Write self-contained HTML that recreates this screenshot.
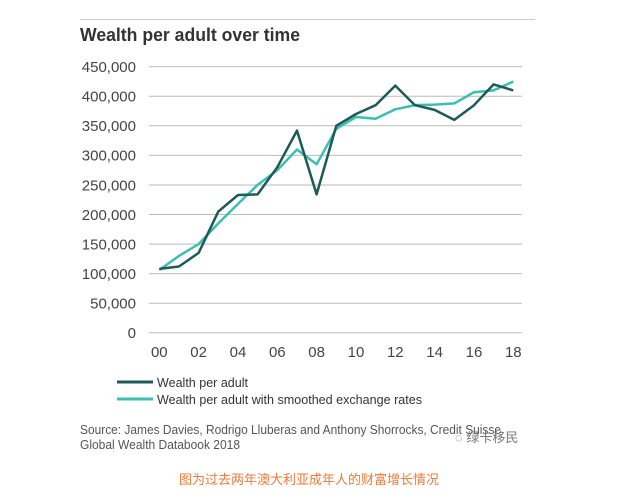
<!DOCTYPE html><html><head><style>body{margin:0;background:#fff}svg text{font-family:"Liberation Sans",sans-serif}</style></head><body>
<svg width="618" height="498" xmlns="http://www.w3.org/2000/svg">
<line x1="80" y1="19.5" x2="535" y2="19.5" stroke="#ccc"/>
<text x="80" y="41" font-size="18.5" font-weight="bold" fill="#333" textLength="220" lengthAdjust="spacingAndGlyphs">Wealth per adult over time</text>
<g stroke="#bbb" stroke-width="1">
<line x1="149" y1="66.7" x2="522" y2="66.7"/><line x1="149" y1="96.3" x2="522" y2="96.3"/><line x1="149" y1="125.8" x2="522" y2="125.8"/><line x1="149" y1="155.4" x2="522" y2="155.4"/><line x1="149" y1="185" x2="522" y2="185"/><line x1="149" y1="214.5" x2="522" y2="214.5"/><line x1="149" y1="244.1" x2="522" y2="244.1"/><line x1="149" y1="273.6" x2="522" y2="273.6"/><line x1="149" y1="303.2" x2="522" y2="303.2"/><line x1="149" y1="332.7" x2="522" y2="332.7"/>
</g>
<g font-size="15" fill="#444" text-anchor="end">
<text x="136" y="72">450,000</text><text x="136" y="101.6">400,000</text><text x="136" y="131.1">350,000</text><text x="136" y="160.7">300,000</text><text x="136" y="190.3">250,000</text><text x="136" y="219.8">200,000</text><text x="136" y="249.4">150,000</text><text x="136" y="278.9">100,000</text><text x="136" y="308.5">50,000</text><text x="136" y="338">0</text>
</g>
<g font-size="15" fill="#444" text-anchor="middle">
<text x="159.3" y="357">00</text><text x="198.6" y="357">02</text><text x="238" y="357">04</text><text x="277.3" y="357">06</text><text x="316.6" y="357">08</text><text x="356" y="357">10</text><text x="395.3" y="357">12</text><text x="434.6" y="357">14</text><text x="474" y="357">16</text><text x="513.3" y="357">18</text>
</g>
<polyline fill="none" stroke="#3bbfb0" stroke-width="2.5" stroke-linejoin="round" points="159.3,270.0 179.0,255.9 198.6,244.1 218.3,223.4 238.0,203.9 257.6,184.9 277.3,170.2 297.0,149.5 316.6,164.3 336.3,128.8 356.0,117.0 375.6,118.7 395.3,109.3 415.0,105.1 434.6,104.6 454.3,103.4 474.0,92.2 493.6,90.4 513.3,81.5"/>
<polyline fill="none" stroke="#1e5a58" stroke-width="2.5" stroke-linejoin="round" points="159.3,268.9 179.0,266.5 198.6,252.9 218.3,211.6 238.0,195.0 257.6,194.4 277.3,167.2 297.0,130.6 316.6,194.4 336.3,125.8 356.0,114.0 375.6,105.2 395.3,85.6 415.0,105.2 434.6,109.9 454.3,119.9 474.0,105.2 493.6,84.4 513.3,90.4"/>
<line x1="117" y1="382" x2="153" y2="382" stroke="#1e5a58" stroke-width="3"/>
<line x1="117" y1="399" x2="153" y2="399" stroke="#3bbfb0" stroke-width="3"/>
<g font-size="13" fill="#333"><text x="157" y="387" textLength="91" lengthAdjust="spacingAndGlyphs">Wealth per adult</text><text x="157" y="404" textLength="265" lengthAdjust="spacingAndGlyphs">Wealth per adult with smoothed exchange rates</text></g>
<g font-size="12.5" fill="#555"><text x="80" y="434" textLength="421" lengthAdjust="spacingAndGlyphs">Source: James Davies, Rodrigo Lluberas and Anthony Shorrocks, Credit Suisse</text><text x="80" y="449" textLength="160" lengthAdjust="spacingAndGlyphs">Global Wealth Databook 2018</text></g>
<text x="455" y="442" font-size="13" fill="#777" font-family="Noto Sans CJK SC,sans-serif">◌ 绿卡移民</text>
<text x="309" y="484" font-size="13" fill="#f07a3a" text-anchor="middle" style="font-family:'Noto Sans CJK SC',sans-serif">图为过去两年澳大利亚成年人的财富增长情况</text>
</svg></body></html>
